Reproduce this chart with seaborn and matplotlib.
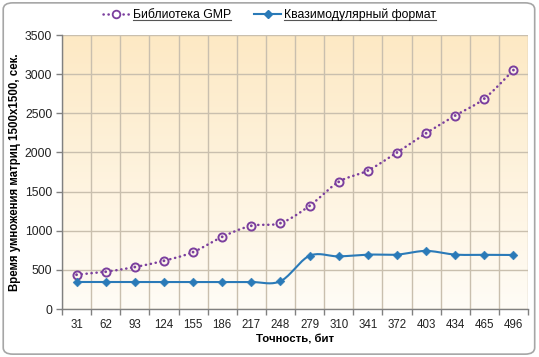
import numpy as np
import pandas as pd
import seaborn as sns
import matplotlib.pyplot as plt
from matplotlib.lines import Line2D
from matplotlib.patches import FancyBboxPatch

# data
precision = [31, 62, 93, 124, 155, 186, 217, 248, 279, 310, 341, 372, 403, 434, 465, 496]
gmp_time = [438, 476, 536, 616, 727, 922, 1063, 1097, 1318, 1624, 1769, 1999, 2245, 2471, 2688, 3052]
quasi_time = [345, 345, 345, 345, 345, 345, 345, 355, 680, 672, 695, 695, 742, 695, 692, 690]

gmp_name = 'Библиотека GMP'
quasi_name = 'Квазимодулярный формат'

purple = '#7b3f9e'
blue = '#2a7ab8'
dots = (0, (0.1, 1.9))


def smooth(y, n=20):
    # excel-like smoothed line: cubic bezier with catmull-rom control points
    y = np.asarray(y, dtype=float)
    x = np.arange(len(y), dtype=float)
    xs, ys = [], []
    for i in range(len(y) - 1):
        p0 = np.array([x[max(i - 1, 0)], y[max(i - 1, 0)]])
        p1 = np.array([x[i], y[i]])
        p2 = np.array([x[i + 1], y[i + 1]])
        p3 = np.array([x[min(i + 2, len(y) - 1)], y[min(i + 2, len(y) - 1)]])
        c1 = p1 + (p2 - p0) / 6
        c2 = p2 - (p3 - p1) / 6
        t = np.linspace(0, 1, n)[:, None]
        pts = (1 - t) ** 3 * p1 + 3 * (1 - t) ** 2 * t * c1 + 3 * (1 - t) * t ** 2 * c2 + t ** 3 * p2
        xs.extend(pts[:, 0])
        ys.extend(pts[:, 1])
    return np.array(xs), np.array(ys)


plt.rcParams['font.family'] = ['Liberation Sans', 'DejaVu Sans']

fig = plt.figure(figsize=(5.39, 3.57), dpi=100)
fig.patch.set_facecolor('white')
fig.patches.append(FancyBboxPatch((0.006, 0.008), 0.986, 0.984,
                                  boxstyle='round,pad=0,rounding_size=0.018',
                                  transform=fig.transFigure, facecolor='none',
                                  edgecolor='#a6a6a6', linewidth=1.2))

ax = fig.add_axes([62 / 539, 48 / 357, 466 / 539, 274 / 357])

# gradient background of plot area
grad = np.linspace(0, 1, 256)[:, None]
top = np.array([253, 233, 196]) / 255
bottom = np.array([255, 252, 246]) / 255
img = top * (1 - grad[..., None]) + bottom * grad[..., None]
ax.imshow(img, extent=[0, 1, 0, 1], transform=ax.transAxes, aspect='auto', zorder=0)

idx = np.arange(len(precision))

gx, gy = smooth(gmp_time)
qx, qy = smooth(quasi_time)
sns.lineplot(x=gx, y=gy, ax=ax, color=purple, linewidth=1.8, linestyle=dots,
             dash_capstyle='round', sort=False, zorder=3)
sns.lineplot(x=qx, y=qy, ax=ax, color=blue, linewidth=1.5, sort=False, zorder=3)

pts = pd.DataFrame({'pos': idx, 'gmp': gmp_time, 'quasi': quasi_time})
sns.scatterplot(data=pts, x='pos', y='gmp', ax=ax, marker='o', s=34, facecolor='#fdf6ea',
                edgecolor=purple, linewidth=1.4, zorder=4)
sns.scatterplot(data=pts, x='pos', y='gmp', ax=ax, marker='o', s=4, color=purple,
                edgecolor='none', zorder=5)
sns.scatterplot(data=pts, x='pos', y='quasi', ax=ax, marker='D', s=20, color=blue,
                edgecolor=blue, zorder=4)

ax.set_xlim(-0.5, len(precision) - 0.5)
ax.set_ylim(0, 3500)
ax.set_yticks(range(0, 3501, 500))
ax.set_xticks(np.arange(-0.5, len(precision), 1.0))
ax.set_xticklabels([])
ax.set_xticks(idx, minor=True)
ax.set_xticklabels([str(p) for p in precision], minor=True)
ax.tick_params(axis='x', which='major', length=4, color='#808080', width=1)
ax.tick_params(axis='x', which='minor', length=0, pad=7, labelsize=8.3, labelcolor='#222222')
ax.tick_params(axis='y', length=4, color='#808080', width=1, labelsize=8.8, labelcolor='#222222', pad=3)

ax.grid(True, axis='y', color='#c9bfae', linewidth=1, zorder=1)
ax.grid(True, axis='x', which='major', color='#c9bfae', linewidth=1, zorder=1)
ax.set_axisbelow(True)
for side in ['top', 'right']:
    ax.spines[side].set_visible(False)
for side in ['left', 'bottom']:
    ax.spines[side].set_color('#808080')
    ax.spines[side].set_linewidth(1)

ax.set_xlabel('Точность, бит', fontsize=8.2, fontweight='bold', labelpad=3)
ax.set_ylabel('Время умножения матриц 1500x1500, сек.', fontsize=8.3, fontweight='bold', labelpad=3)

handles = [
    Line2D([], [], color=purple, linewidth=1.8, linestyle=dots, dash_capstyle='round',
           marker='o', markersize=5.5, markerfacecolor='white', markeredgecolor=purple,
           markeredgewidth=1.3),
    Line2D([], [], color=blue, linewidth=1.5, marker='D', markersize=4.3,
           markerfacecolor=blue, markeredgecolor=blue),
]
leg = fig.legend(handles, [gmp_name, quasi_name], loc='center', bbox_to_anchor=(0.5, 1 - 15 / 357),
                 ncol=2, frameon=False, fontsize=8.8, handlelength=2.2, handletextpad=0.25,
                 columnspacing=1.9, borderpad=0)

# underline the legend texts
fig.canvas.draw()
inv = fig.transFigure.inverted()
for t in leg.get_texts():
    bb = t.get_window_extent()
    (x0, y0), (x1, _) = inv.transform([(bb.x0, bb.y0), (bb.x1, bb.y1)])
    fig.add_artist(Line2D([x0, x1], [y0 + 0.003, y0 + 0.003], transform=fig.transFigure,
                          color='#555555', linewidth=0.8))

fig.savefig('out.png', dpi=100)
